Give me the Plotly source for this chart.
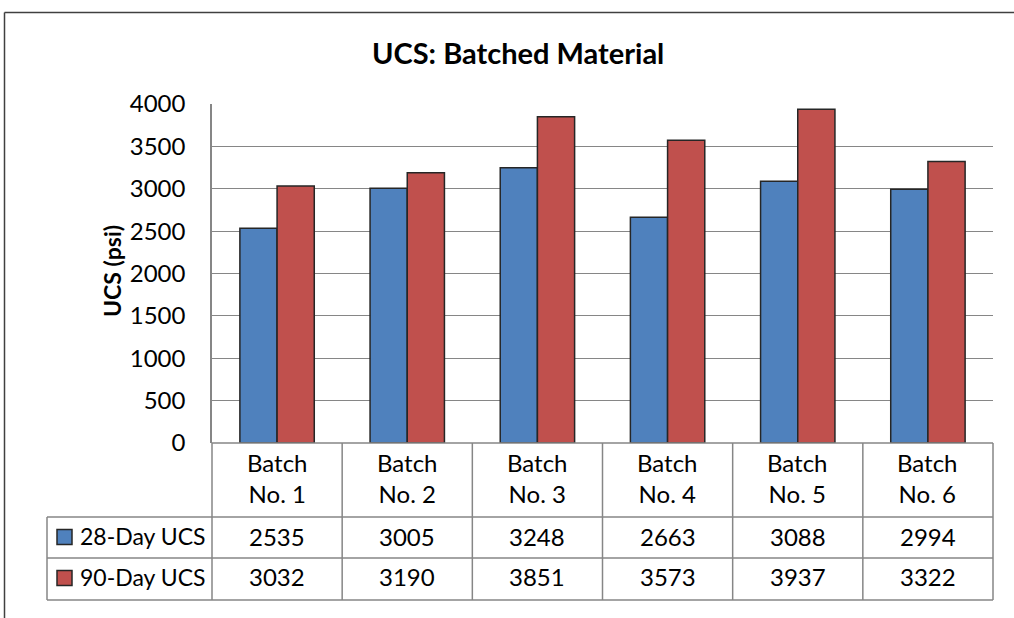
import plotly.graph_objects as go

# data
categories = ["Batch No. 1", "Batch No. 2", "Batch No. 3", "Batch No. 4", "Batch No. 5", "Batch No. 6"]
ucs_28 = [2535, 3005, 3248, 2663, 3088, 2994]
ucs_90 = [3032, 3190, 3851, 3573, 3937, 3322]
series_names = ["28-Day UCS", "90-Day UCS"]
y_ticks = [0, 500, 1000, 1500, 2000, 2500, 3000, 3500, 4000]

W, H = 1014, 618
L, R, T, B = 212, 993, 104, 443   # plot area in pixels
FONT = "Lato"
GRID = "#868686"
BLUE = "#4F81BD"
RED = "#C0504D"
EDGE = "#262626"


def px(x):
    return (x - L) / (R - L)


def py(y):
    return (B - y) / (B - T)


xs = list(range(len(categories)))
fig = go.Figure()
for name, vals, col in [(series_names[0], ucs_28, BLUE), (series_names[1], ucs_90, RED)]:
    fig.add_trace(go.Bar(x=xs, y=vals, name=name, marker=dict(color=col, line=dict(color=EDGE, width=1.5))))

# table grid (pixel y of row lines)
row_lines = [443, 517, 558, 600]
leg_left = 47
shapes = []
line = dict(color=GRID, width=1.5)
for i, y in enumerate(row_lines):
    x0 = L if i == 0 else leg_left
    shapes.append(dict(type="line", xref="paper", yref="paper", x0=px(x0), x1=1, y0=py(y), y1=py(y), line=line))
for k in range(len(categories) + 1):
    shapes.append(dict(type="line", xref="paper", yref="paper", x0=k / len(categories), x1=k / len(categories),
                       y0=py(443), y1=py(600), line=line))
shapes.append(dict(type="line", xref="paper", yref="paper", x0=px(leg_left), x1=px(leg_left),
                   y0=py(517), y1=py(600), line=line))
# outer chart frame, only top and left show
frame = dict(color="#404040", width=1.5)
shapes.append(dict(type="line", xref="paper", yref="paper", x0=px(4.5), x1=px(4.5), y0=py(620), y1=py(12.5), line=frame))
shapes.append(dict(type="line", xref="paper", yref="paper", x0=px(4.5), x1=px(1016), y0=py(12.5), y1=py(12.5), line=frame))

annotations = []
tf = dict(family=FONT, size=24, color="black")
for i, cat in enumerate(categories):
    annotations.append(dict(x=i, xref="x", y=py(478), yref="paper", text=cat.replace("Batch ", "Batch<br>"),
                            showarrow=False, font=tf, align="center", xanchor="center", yanchor="middle"))
    for vals, yc in [(ucs_28, 536.5), (ucs_90, 576.5)]:
        annotations.append(dict(x=i, xref="x", y=py(yc), yref="paper", text=str(vals[i]),
                                showarrow=False, font=tf, xanchor="center", yanchor="middle"))
for name, col, yc in [(series_names[0], BLUE, 537), (series_names[1], RED, 578)]:
    shapes.append(dict(type="rect", xref="paper", yref="paper", x0=px(57), x1=px(72), y0=py(yc - 7.5), y1=py(yc + 7.5),
                       fillcolor=col, line=dict(color=EDGE, width=1.5)))
    annotations.append(dict(x=px(78), xref="paper", y=py(yc - 1), yref="paper", text=name, showarrow=False,
                            xanchor="left", yanchor="middle", font=dict(family=FONT, size=23, color="black")))

annotations.append(dict(x=px(518), xref="paper", y=py(52), yref="paper", text="<b>UCS: Batched Material</b>",
                        showarrow=False, xanchor="center", yanchor="middle",
                        font=dict(family=FONT, size=29, color="black")))
annotations.append(dict(x=px(112), xref="paper", y=py(271), yref="paper", text="<b>UCS (psi)</b>", textangle=-90,
                        showarrow=False, xanchor="center", yanchor="middle",
                        font=dict(family=FONT, size=23, color="black")))

fig.update_layout(
    width=W, height=H,
    margin=dict(l=L, r=W - R, t=T, b=H - B),
    paper_bgcolor="white", plot_bgcolor="white",
    barmode="group", bargap=1.5 / 3.5, bargroupgap=0,
    showlegend=False,
    shapes=shapes, annotations=annotations,
    font=dict(family=FONT, size=24, color="black"),
)
fig.update_xaxes(range=[-0.5, len(categories) - 0.5], showticklabels=False, showgrid=False, zeroline=False,
                 showline=False)
fig.update_yaxes(range=[0, 4000], tickvals=y_ticks, showgrid=True, gridcolor=GRID, gridwidth=1.3,
                 zeroline=False, showline=True, linecolor=GRID, linewidth=1.5, ticks="",
                 ticklabelstandoff=20, tickfont=dict(family=FONT, size=24, color="black"))

fig.write_html("out.html", config={"displayModeBar": False},
               post_script="document.body.style.margin='0';document.body.style.overflow='hidden';")
